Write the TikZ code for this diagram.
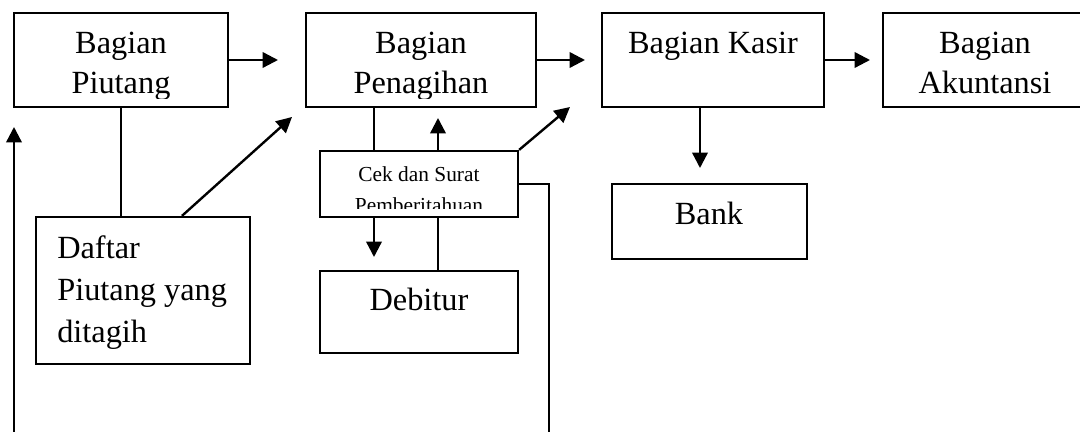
\documentclass[tikz,border=0pt]{standalone}
\usepackage{fontspec}
\setmainfont{Liberation Serif}
\usetikzlibrary{arrows.meta,positioning}

\begin{document}
\begin{tikzpicture}[
    x=0.025cm, y=-0.025cm,
    every node/.style={font=\fontsize{23}{28.5}\selectfont},
    box/.style={draw, rectangle, line width=1.6pt, inner sep=0pt, minimum height=2.35cm},
    lbl/.style={inner sep=0pt, align=center},
    small/.style={font=\fontsize{15.2}{22}\selectfont},
    arr/.style={-{Triangle[length=11pt,width=11pt]}, line width=1.7pt},
    ln/.style={line width=1.7pt}
]
\useasboundingbox (0,0) rectangle (1080,432);

% Top row
\node[box, minimum width=5.35cm] (piutang)   at (121, 60) {};
\node[box, minimum width=5.75cm] (penagihan) at (421, 60) {};
\node[box, minimum width=5.55cm] (kasir)     at (713, 60) {};
\node[box, minimum width=5.1cm]  (akuntansi) at (985, 60) {};

% Lower boxes
\node[box, minimum width=4.875cm, minimum height=1.875cm] (bank)    at (709.5, 221.5) {};
\node[box, minimum width=4.95cm,  minimum height=1.65cm]  (cek)     at (419, 184) {};
\node[box, minimum width=4.95cm,  minimum height=2.05cm]  (debitur) at (419, 312) {};
\node[box, minimum width=5.35cm,  minimum height=3.675cm] (daftar)  at (143, 290.5) {};

% Texts (clipped like the text boxes)
\begin{scope}
\clip (piutang.north west) rectangle ([yshift=7pt]piutang.south east);
\node[lbl, anchor=north] (piutang-t) at (121, 32) {Bagian\\Piutang};
\end{scope}
\begin{scope}
\clip (penagihan.north west) rectangle ([yshift=7pt]penagihan.south east);
\node[lbl, anchor=north] (penagihan-t) at (421, 32) {Bagian\\Penagihan};
\end{scope}
\begin{scope}
\clip (cek.north west) rectangle ([yshift=7pt]cek.south east);
\node[lbl, small, anchor=north] (cek-t) at (419, 166) {Cek dan Surat\\Pemberitahuan};
\end{scope}
\node[lbl, anchor=base] (kasir-t) at (713, 54) {Bagian Kasir};
\node[lbl, anchor=north] (akuntansi-t) at (985, 32) {Bagian\\Akuntansi};
\node[lbl, anchor=base] (bank-t) at (709, 225) {Bank};
\node[lbl, anchor=base] (debitur-t) at (419, 311) {Debitur};
\node[inner sep=0pt, align=left, anchor=north west, font=\fontsize{23}{30.2}\selectfont]
    (daftar-t) at (57, 235) {Daftar\\Piutang yang\\ditagih};

% Free ends
\coordinate (e1) at (278, 60);
\coordinate (e2) at (585, 60);
\coordinate (e3) at (870, 60);
\coordinate (e4) at (292, 117);
\coordinate (e5) at (570, 107);
\coordinate (e6) at (438, 118);
\coordinate (e7) at (549, 432);
\coordinate (e8) at (14, 432);
\coordinate (e9) at (14, 127);

% Arrows
\draw[arr] (piutang.east) -- (e1);
\draw[arr] (penagihan.east) -- (e2);
\draw[arr] (kasir.east) -- (e3);
\draw[arr] (kasir.south -| 700, 0) -- (700, 168);
\draw[ln] (piutang.south) -- (piutang.south |- daftar.north);
\draw[arr] (daftar.north -| 182, 0) -- (e4);
\draw[ln] (penagihan.south -| 374, 0) -- (cek.north -| 374, 0);
\draw[arr] (cek.north -| e6) -- (e6);
\draw[arr] (cek.north east) -- (e5);
\draw[ln] (cek.east) -| (e7);
\draw[arr] (e8) -- (e9);
\draw[arr] (cek.south -| 374, 0) -- (374, 257);
\draw[ln] (debitur.north -| 438, 0) -- (cek.south -| 438, 0);

\end{tikzpicture}
\end{document}
